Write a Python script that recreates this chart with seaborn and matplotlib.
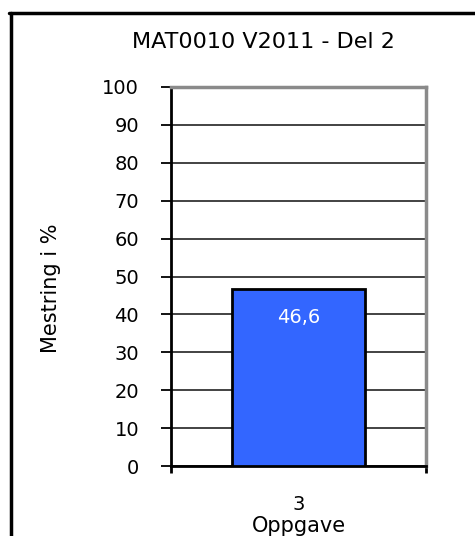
import matplotlib
matplotlib.use("Agg")
import matplotlib.pyplot as plt
import seaborn as sns
from matplotlib.lines import Line2D

# chart data
categories = ["3"]
values = [46.6]
value_labels = ["46,6"]
y_ticks = [0, 10, 20, 30, 40, 50, 60, 70, 80, 90, 100]
title = "MAT0010 V2011 - Del 2"
x_label = "Oppgave"
y_label = "Mestring i %"

sns.set_style("white")
plt.rcParams["font.family"] = ["DejaVu Sans"]
plt.rcParams["text.color"] = "black"
plt.rcParams["axes.labelcolor"] = "black"
plt.rcParams["xtick.color"] = "black"
plt.rcParams["ytick.color"] = "black"

fig = plt.figure(figsize=(4.75, 5.36), dpi=100)
ax = fig.add_axes([171 / 475, 1 - 466 / 536, 255 / 475, 379 / 536])

sns.barplot(x=categories, y=values, ax=ax, width=0.525, color="#3366FF",
            saturation=1, edgecolor="black", linewidth=2, zorder=3)

ax.set_xlim(-0.5, 0.5)
ax.set_ylim(0, 100)
ax.set_yticks(y_ticks)
ax.yaxis.grid(True, color="#222222", linewidth=1.2)
ax.set_axisbelow(True)

# category boundary ticks below the axis
ax.set_xticks([-0.5, 0.5], minor=True)
ax.tick_params(axis="x", which="minor", length=5, width=2, direction="out", color="black", bottom=True)
ax.tick_params(axis="x", which="major", length=0, pad=21, labelsize=14)
ax.tick_params(axis="y", length=7, width=1.3, direction="out", color="black", left=True, pad=16, labelsize=14)

for side in ["left", "bottom"]:
    ax.spines[side].set_color("black")
    ax.spines[side].set_linewidth(2)
for side in ["top", "right"]:
    ax.spines[side].set_visible(True)
    ax.spines[side].set_color("#8a8a8a")
    ax.spines[side].set_linewidth(2.5)

ax.bar_label(ax.containers[0], labels=value_labels, padding=-27, color="white", fontsize=14)

ax.set_xlabel(x_label, fontsize=15, labelpad=1)
ax.set_ylabel(y_label, fontsize=15)
ax.yaxis.set_label_coords(-0.43, 0.47)

fig.text(263 / 475, 1 - 42 / 536, title, ha="center", va="center", fontsize=16)

# outer frame (left and top edges)
fig.add_artist(Line2D([10.5 / 475, 10.5 / 475], [0, 1 - 13 / 536], color="black", linewidth=2.5))
fig.add_artist(Line2D([9 / 475, 1], [1 - 13 / 536, 1 - 13 / 536], color="black", linewidth=2.5))

fig.savefig("out.png", dpi=100)
